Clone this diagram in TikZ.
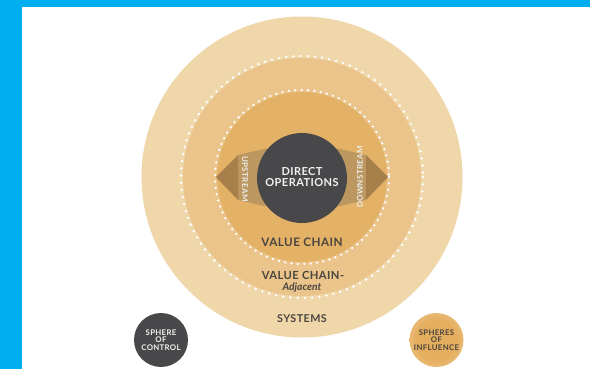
\documentclass[tikz,border=0pt]{standalone}
\usepackage{fontspec}
\setmainfont{Lato}
\newfontfamily\labelfont[LetterSpace=4]{Lato}
\definecolor{frame}{HTML}{00AEEF}
\definecolor{systemfill}{HTML}{EFD7AA}
\definecolor{adjfill}{HTML}{EAC48B}
\definecolor{chainfill}{HTML}{E4B267}
\definecolor{tipdark}{HTML}{A67F4B}
\definecolor{tiplight}{HTML}{BC975F}
\definecolor{corefill}{HTML}{48484A}
\definecolor{ink}{HTML}{4A453F}
\definecolor{inflin}{HTML}{E5AD5E}
\definecolor{inflout}{HTML}{F3DBB0}
\pgfdeclareradialshading{influence}{\pgfpoint{0bp}{0bp}}{%
  color(0bp)=(inflin); color(18bp)=(inflin); color(32bp)=(inflout!50!inflin);
  color(41bp)=(inflout); color(50bp)=(inflout)}
\begin{document}
\begin{tikzpicture}[x=1pt,y=-1pt,
  dots/.style={white, line width=2.8pt, dash pattern=on 0pt off 7.2pt, line cap=round},
  innerdots/.style={white, line width=2.6pt, dash pattern=on 0pt off 6.4pt, line cap=round},
  lbl/.style={text=ink, inner sep=0pt, align=center},
  smalllbl/.style={inner sep=0pt, align=center,
    font=\labelfont\bfseries\fontsize{7.8}{7.4}\selectfont},
  flowlbl/.style={text=white!92!black, inner sep=0pt,
    font=\labelfont\bfseries\fontsize{8}{9}\selectfont}]
  % canvas and frame
  \path[use as bounding box, fill=white] (0,0) rectangle (590,369);
  \fill[frame] (0,0) rectangle (22,369);
  \fill[frame] (0,0) rectangle (590,7);

  % nested spheres
  \fill[systemfill] (302,177) circle (160.5);
  \fill[adjfill] (302,177) circle (119);
  \draw[dots] (302,177) circle (121);
  \fill[chainfill] (302,177) circle (85);
  \draw[innerdots] (302,177) circle (87);

  % upstream / downstream wedges
  \fill[tiplight] (238,155) -- (264,149) -- (290,149) -- (290,206) -- (264,206) -- (238,200) -- cycle;
  \fill[tipdark] (216,177) -- (238,155) -- (238,200) -- cycle;
  \fill[tiplight] (366,155) -- (340,149) -- (314,149) -- (314,206) -- (340,206) -- (366,200) -- cycle;
  \fill[tipdark] (388,177) -- (366,155) -- (366,200) -- cycle;

  % direct operations
  \node[circle, fill=corefill, minimum size=90pt, inner sep=0pt] (core) at (302,178) {};
  \node[lbl, text=white!95!black, font=\labelfont\bfseries\fontsize{11}{11.5}\selectfont] (direct) at (302,177) {DIRECT\\OPERATIONS};
  \node[flowlbl, rotate=-90] (up) at (245,179) {UPSTREAM};
  \node[flowlbl, rotate=90] (down) at (360,177) {DOWNSTREAM};

  % ring labels
  \node[lbl, font=\labelfont\bfseries\fontsize{11.7}{13}\selectfont] (chain) at (302,242) {VALUE CHAIN};
  \node[lbl, font=\labelfont\bfseries\fontsize{11.2}{13}\selectfont] (adj) at (303,275) {VALUE CHAIN-};
  \node[lbl, font=\bfseries\itshape\fontsize{10.3}{12}\selectfont] (adjb) at (302,287.5) {Adjacent};
  \node[lbl, font=\labelfont\bfseries\fontsize{10.8}{13}\selectfont] (sys) at (302,319) {SYSTEMS};

  % legend spheres
  \node[circle, fill=corefill, minimum size=54pt, inner sep=0pt] (ctrl) at (161,340) {};
  \node[smalllbl, text=white!95!black] (ctrltext) at (ctrl) {SPHERE\\OF\\CONTROL};
  \shade[shading=influence] (436.5,340) circle (27);
  \node[circle, minimum size=54pt, inner sep=0pt] (infl) at (436.5,340) {};
  \node[smalllbl, text=ink] (infltext) at (infl) {SPHERES\\OF\\INFLUENCE};
\end{tikzpicture}
\end{document}
